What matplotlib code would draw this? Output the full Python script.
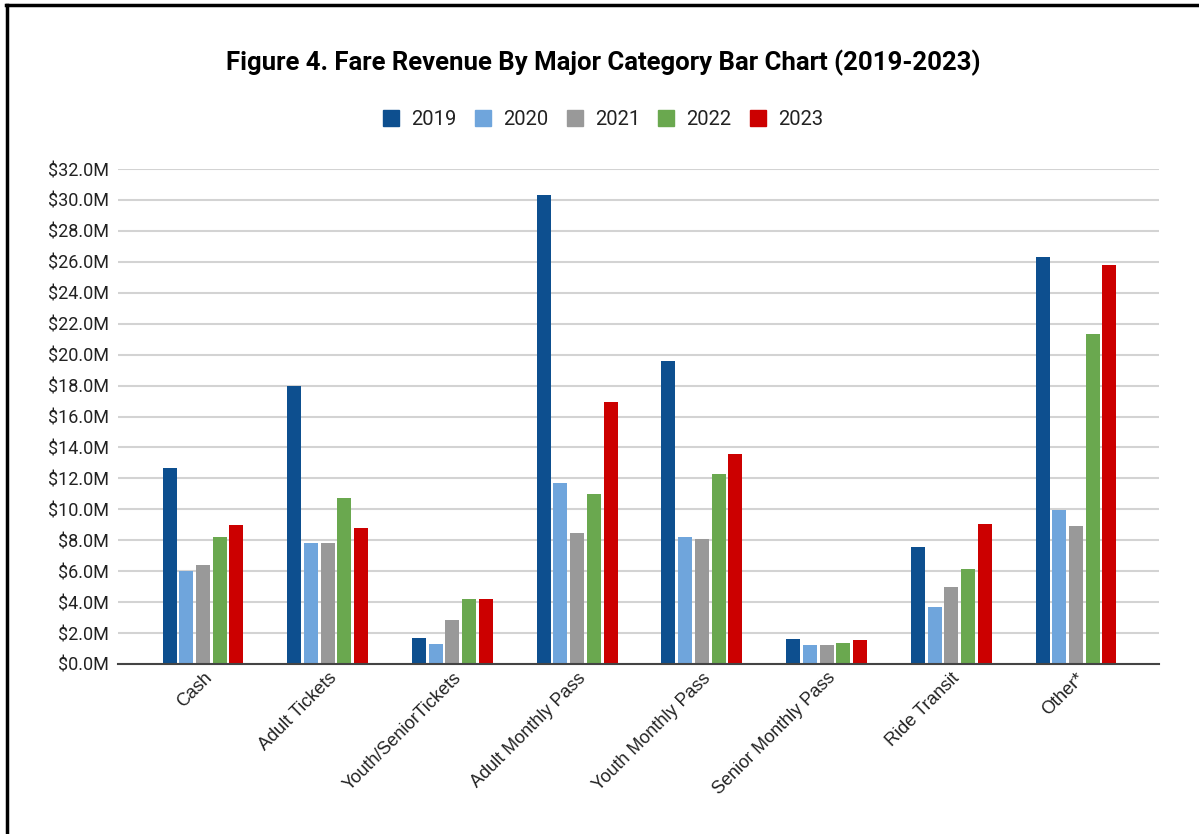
import matplotlib
matplotlib.use("Agg")
import matplotlib.pyplot as plt
from matplotlib.lines import Line2D
import numpy as np

categories = ["Cash", "Adult Tickets", "Youth/SeniorTickets", "Adult Monthly Pass",
              "Youth Monthly Pass", "Senior Monthly Pass", "Ride Transit", "Other*"]
years = ["2019", "2020", "2021", "2022", "2023"]
v2019 = [12.7, 18.0, 1.66, 30.34, 19.59, 1.62, 7.58, 26.31]
v2020 = [6.0, 7.8, 1.27, 11.7, 8.23, 1.21, 3.68, 9.98]
v2021 = [6.4, 7.8, 2.84, 8.49, 8.08, 1.21, 5.0, 8.92]
v2022 = [8.23, 10.73, 4.18, 10.99, 12.3, 1.36, 6.16, 21.31]
v2023 = [8.96, 8.81, 4.18, 16.96, 13.55, 1.55, 9.07, 25.81]
series = [v2019, v2020, v2021, v2022, v2023]
colors = ["#0d4f8f", "#6fa5dc", "#999999", "#6aa84f", "#cc0000"]
yticks = np.arange(0, 33, 2)

W, H = 1199, 834
fig = plt.figure(figsize=(W / 100, H / 100), dpi=100)
ax = fig.add_axes([118 / W, (H - 664) / H, (1159 - 118) / W, (664 - 169) / H])

x = np.arange(len(categories))
step, width = 0.134, 0.112
for j, (vals, c) in enumerate(zip(series, colors)):
    ax.bar(x + (j - 2) * step, vals, width=width, color=c, zorder=3, label=years[j])

ax.set_xlim(-0.682, 7.666)
ax.set_ylim(0, 32)
ax.set_yticks(yticks)
ax.set_yticklabels([f"${v:.1f}M" for v in yticks], fontfamily="Roboto", fontsize=13, color="#222222")
ax.yaxis.grid(True, color="#d3d3d3", linewidth=1.5, zorder=0)
ax.tick_params(axis="y", length=0, pad=6.5)
ax.tick_params(axis="x", length=0, pad=4)
ax.set_xticks(x)
ax.set_xticklabels(categories, rotation=45, ha="right", rotation_mode="anchor",
                   fontfamily="Liberation Sans", fontsize=13, color="#222222")
for s in ["top", "right", "left"]:
    ax.spines[s].set_visible(False)
ax.spines["bottom"].set_color("#444444")
ax.spines["bottom"].set_linewidth(1.5)
ax.spines["bottom"].set_zorder(4)

fig.text(603 / W, 1 - 63 / H, "Figure 4. Fare Revenue By Major Category Bar Chart (2019-2023)",
         ha="center", va="center", fontfamily="Roboto", fontweight="bold", fontsize=18.5)

handles = [Line2D([0], [0], marker="s", linestyle="none", markersize=11,
                  markerfacecolor=c, markeredgecolor=c) for c in colors]
leg = fig.legend(handles, years, loc="center", bbox_to_anchor=(603 / W, 1 - 119.5 / H), ncol=5,
                 frameon=False, prop={"family": "Roboto", "size": 14.5},
                 handlelength=0.8, handletextpad=0.6, columnspacing=0.9)
for t in leg.get_texts():
    t.set_color("#222222")

# border (left and top)
fig.add_artist(Line2D([7 / W, 7 / W], [0, 1 - 5 / H], color="black", linewidth=2.5, transform=fig.transFigure))
fig.add_artist(Line2D([6 / W, 1], [1 - 5 / H, 1 - 5 / H], color="black", linewidth=2.5, transform=fig.transFigure))

fig.savefig("out.png", dpi=100)
